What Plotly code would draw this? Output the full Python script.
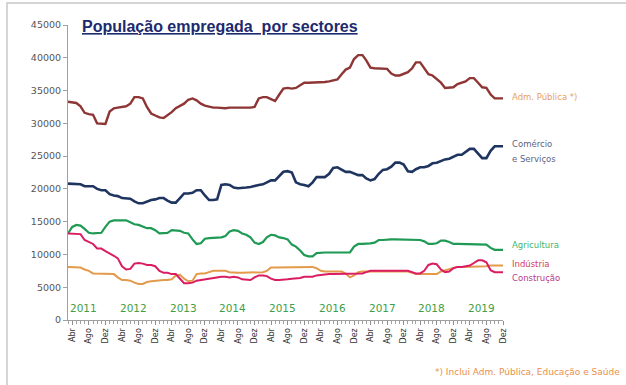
import pandas as pd
import plotly.graph_objects as go

# Monthly employment by sector, Mar 2011 - Dec 2019
months = pd.date_range("2011-03-01", "2019-12-01", freq="MS")

adm_publica = [
    33300, 33200, 33100, 32600, 31600, 31400, 31300, 30000, 29900, 29900,
    31800, 32300, 32400, 32500, 32600, 33000, 34000, 34000, 33800, 32500,
    31500, 31200, 30900, 30800, 31200, 31700, 32300, 32600, 33000, 33600,
    33800, 33500, 33000, 32700, 32500, 32400, 32400, 32300, 32300, 32400,
    32400, 32300, 32300, 32400, 32400, 32500, 33800, 34000, 34000, 33700,
    33400, 34400, 35300, 35400, 35300, 35400, 35800, 36200, 36200, 36200,
    36200, 36200, 36300, 36400, 36600, 36700, 37500, 38200, 38500, 39800,
    40400, 40400, 39600, 38500, 38400, 38400, 38400, 38300, 37600, 37300,
    37300, 37600, 37800, 38400, 39300, 39300, 38400, 37500, 37300, 36800,
    36200, 35400, 35400, 35500, 36000, 36200, 36400, 36900, 36900, 36200,
    35500, 35400, 34400, 33800, 33800, 33800,
]
comercio_servicos = [
    20800, 20800, 20800, 20700, 20400, 20400, 20400, 20000, 19800, 19800,
    19200, 19000, 18900, 18600, 18600, 18500, 18100, 17800, 17800, 18100,
    18300, 18400, 18600, 18600, 18200, 17900, 17900, 18600, 19300, 19300,
    19400, 19800, 19800, 19000, 18300, 18300, 18400, 20600, 20700, 20600,
    20200, 20100, 20100, 20200, 20300, 20500, 20600, 20700, 21000, 21300,
    21300, 21900, 22600, 22700, 22500, 21000, 20700, 20600, 20400, 21000,
    21800, 21800, 21800, 22300, 23200, 23300, 22900, 22600, 22600, 22400,
    22100, 22100, 21600, 21300, 21500, 22300, 22900, 23000, 23400, 24000,
    24000, 23700, 22700, 22600, 23000, 23300, 23300, 23500, 23900, 24000,
    24300, 24500, 24600, 24900, 25200, 25200, 25600, 26100, 26100, 25300,
    24700, 24700, 25800, 26500, 26500, 26500,
]
agricultura = [
    13200, 14200, 14500, 14400, 13900, 13300, 13200, 13200, 13300, 14200,
    15000, 15200, 15200, 15200, 15200, 14900, 14600, 14500, 14300, 14000,
    14000, 13700, 13200, 13200, 13300, 13700, 13700, 13600, 13300, 13200,
    12300, 11600, 11700, 12400, 12500, 12500, 12500, 12600, 12800, 13500,
    13700, 13600, 13200, 13000, 12600, 11800, 11600, 11900, 12600, 13000,
    12900, 12600, 12500, 12300, 11500, 11200, 10600, 9900, 9700, 9700,
    10200, 10300, 10300, 10300, 10300, 10300, 10300, 10300, 10300, 11200,
    11600, 11600, 11600, 11700, 11800, 12200, 12200, 12300, 12300, 12300,
    12300, 12200, 12200, 12200, 12300, 12200, 12000, 11600, 11600, 11700,
    12100, 12100, 11900, 11600, 11600, 11600, 11600, 11600, 11600, 11600,
    11600, 11500, 11000, 10700, 10700, 10700,
]
industria = [
    8100, 8100, 8100, 8000, 7700, 7500, 7100, 7100, 7100, 7100,
    7100, 7000, 6500, 6100, 6100, 6000, 5700, 5500, 5500, 5800,
    5900, 6000, 6100, 6100, 6100, 6200, 6800, 6900, 6300, 5900,
    6000, 7000, 7100, 7100, 7300, 7500, 7500, 7500, 7500, 7300,
    7200, 7200, 7200, 7200, 7200, 7300, 7300, 7300, 7500, 8000,
    8000, 8000, 8100, 8100, 8100, 8100, 8100, 8100, 8100, 8100,
    7900, 7500, 7400, 7400, 7400, 7400, 7400, 7100, 6500, 6800,
    7300, 7400, 7400, 7400, 7400, 7500, 7500, 7500, 7400, 7400,
    7400, 7400, 7400, 7200, 7000, 7000, 7000, 7000, 7000, 7000,
    7400, 7600, 7700, 8000, 8100, 8100, 8100, 8200, 8200, 8200,
    8200, 8200, 8300, 8300, 8300, 8300,
]
construcao = [
    13200, 13200, 13200, 13100, 12200, 11900, 11600, 10900, 10900, 10500,
    10200, 9800, 9400, 8200, 7700, 7800, 8600, 8700, 8600, 8400,
    8400, 8200, 7500, 7200, 7200, 7000, 7000, 6200, 5600, 5600,
    5700, 6000, 6100, 6200, 6400, 6500, 6500, 6600, 6600, 6500,
    6600, 6500, 6200, 6100, 6100, 6500, 6800, 6800, 6700, 6300,
    6100, 6100, 6100, 6200, 6300, 6300, 6400, 6600, 6600, 6600,
    6800, 6900, 6900, 7000, 7000, 7000, 7000, 7000, 7100, 7100,
    7100, 7100, 7300, 7500, 7500, 7500, 7500, 7500, 7500, 7500,
    7500, 7500, 7500, 7300, 7100, 7100, 7500, 8400, 8600, 8500,
    7700, 7300, 7400, 7900, 8100, 8100, 8200, 8300, 8700, 9100,
    9100, 8800, 7600, 7300, 7300, 7300,
]

years = ["2011", "2012", "2013", "2014", "2015", "2016", "2017", "2018", "2019"]
month_names = ["Abr", "Ago", "Dez"]
y_ticks = [0, 5000, 10000, 15000, 20000, 25000, 30000, 35000, 40000, 45000]

tick_dates = [d for d in months if d.month in (4, 8, 12)]
tick_text = [month_names[(4, 8, 12).index(d.month)] for d in tick_dates]

series = [
    (adm_publica, "#8E3535", 2.4),
    (comercio_servicos, "#1F3560", 2.6),
    (agricultura, "#1F9A55", 2.2),
    (industria, "#E39A4A", 2.0),
    (construcao, "#DA1D62", 2.0),
]

fig = go.Figure()
for values, color, width in series:
    fig.add_trace(go.Scatter(
        x=months, y=values, mode="lines",
        line=dict(color=color, width=width),
        showlegend=False, hoverinfo="skip",
    ))

# Year captions just above the time axis
for yr in years:
    fig.add_annotation(
        x=f"{yr}-06-25", y=1800, xref="x", yref="y", text=yr, showarrow=False,
        font=dict(family="DejaVu Sans", size=10.5, color="#3F9E46"),
    )

# Series labels at the right end of the lines
side_labels = [
    ("Adm. Pública *)", 34000, "#E8A060"),
    ("Comércio", 26800, "#5A6480"),
    ("e Serviços", 24500, "#5A6480"),
    ("Agricultura", 11400, "#45B56A"),
    ("Indústria", 8600, "#D2405E"),
    ("Construção", 6400, "#B93A8C"),
]
for text, yv, color in side_labels:
    fig.add_annotation(
        x=1.016, y=yv, xref="paper", yref="y", text=text, showarrow=False,
        xanchor="left", yanchor="middle",
        font=dict(family="DejaVu Sans", size=8.5, color=color),
    )

fig.add_annotation(
    x=0.027, y=0.995, xref="paper", yref="paper",
    text="<b><u>População empregada  por sectores</u></b>",
    showarrow=False, xanchor="left", yanchor="middle",
    font=dict(family="Liberation Sans", size=16, color="#1C2A6E"),
)

fig.add_annotation(
    x=1.2736, y=-0.176, xref="paper", yref="paper",
    text="*) Inclui Adm. Pública, Educação e Saúde",
    showarrow=False, xanchor="right", yanchor="middle",
    font=dict(family="DejaVu Sans", size=9, color="#E8904A"),
)

# Outer frame
fig.add_shape(
    type="rect", xref="paper", yref="paper",
    x0=-0.1402, x1=1.29, y0=-0.25, y1=1.0746,
    line=dict(color="#C8C8C8", width=1.5),
)

fig.update_xaxes(
    type="date",
    range=["2011-03-01", "2019-12-01"],
    tickmode="array", tickvals=tick_dates, ticktext=tick_text,
    tickangle=-90, ticks="outside", ticklen=4, tickcolor="#909090",
    tickfont=dict(family="DejaVu Sans", size=8, color="#333333"),
    minor=dict(dtick="M1", tick0="2011-03-01", ticks="outside", ticklen=3,
               tickcolor="#A0A0A0", showgrid=False),
    showline=True, linecolor="#A0A0A0", linewidth=1,
    showgrid=False, zeroline=False,
)
fig.update_yaxes(
    range=[0, 45000], tickmode="array", tickvals=y_ticks,
    ticktext=[str(v) for v in y_ticks],
    ticks="outside", ticklen=4, tickcolor="#A0A0A0",
    tickfont=dict(family="DejaVu Sans", size=9.5, color="#555555"),
    showline=True, linecolor="#A0A0A0", linewidth=1,
    showgrid=False, zeroline=False,
)

fig.update_layout(
    width=626, height=385,
    margin=dict(l=68, r=123, t=25, b=65),
    plot_bgcolor="white", paper_bgcolor="white",
)

fig.write_html("out.html")
